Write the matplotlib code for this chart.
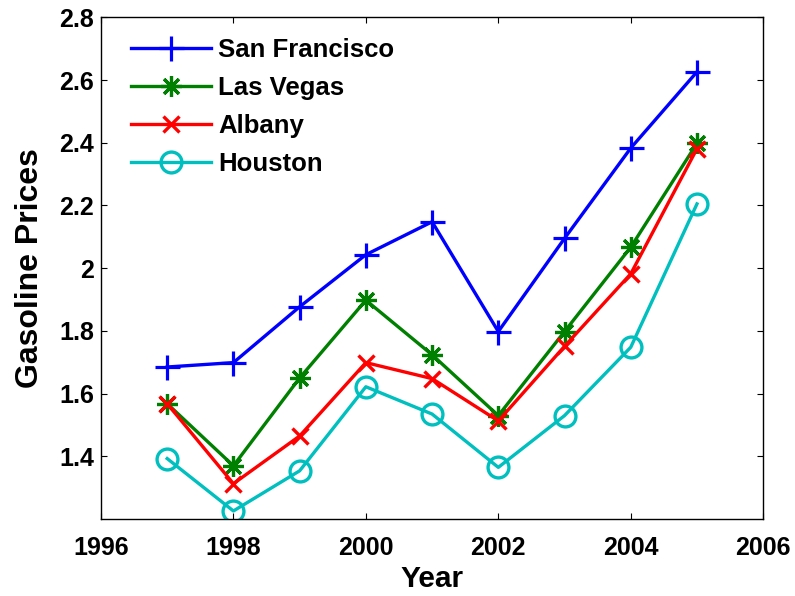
import numpy as np
import matplotlib
matplotlib.use("Agg")
import matplotlib.pyplot as plt

plt.rcParams['font.family'] = ['Liberation Sans', 'DejaVu Sans']
plt.rcParams['font.weight'] = 'bold'

years = [1997, 1998, 1999, 2000, 2001, 2002, 2003, 2004, 2005]
san_francisco = [1.685, 1.699, 1.877, 2.043, 2.148, 1.798, 2.095, 2.383, 2.626]
las_vegas = [1.568, 1.370, 1.650, 1.898, 1.724, 1.530, 1.798, 2.067, 2.398]
albany = [1.568, 1.313, 1.465, 1.699, 1.648, 1.513, 1.751, 1.982, 2.381]
houston = [1.393, 1.226, 1.354, 1.622, 1.535, 1.365, 1.530, 1.748, 2.205]

fig = plt.figure(figsize=(7.95, 5.96), dpi=100)
ax = fig.add_axes([0.127, 0.129, 0.833, 0.842])

lw = 2.4
ax.plot(years, san_francisco, color='#0000ff', lw=lw, marker='+', ms=18, mew=2.3, label='San Francisco')
ax.plot(years, las_vegas, color='#008000', lw=lw, marker=(8, 2, 0), ms=15, mew=2.3, label='Las Vegas')
ax.plot(years, albany, color='#ff0000', lw=lw, marker='x', ms=12, mew=2.4, label='Albany')
ax.plot(years, houston, color='#00bfbf', lw=lw, marker='o', ms=15, mew=2.4, mfc='none', label='Houston')

ax.set_xlim(1996, 2006)
ax.set_ylim(1.2, 2.8)
ax.set_xticks([1996, 1998, 2000, 2002, 2004, 2006])
ax.set_yticks([1.4, 1.6, 1.8, 2.0, 2.2, 2.4, 2.6, 2.8])
ax.set_yticklabels(['1.4', '1.6', '1.8', '2', '2.2', '2.4', '2.6', '2.8'])
ax.tick_params(direction='in', length=4, labelsize=18, top=True, right=True, width=0.8)
ax.tick_params(axis='x', pad=12)
ax.tick_params(axis='y', pad=5)
for s in ax.spines.values():
    s.set_linewidth(1.0)

ax.set_xlabel('Year', fontsize=21.5, fontweight='bold', labelpad=4)
ax.set_ylabel('Gasoline Prices', fontsize=23, fontweight='bold', labelpad=10)

ax.legend(loc='upper left', bbox_to_anchor=(0.018, 0.995), frameon=False,
          handlelength=3.1, labelspacing=0.55, handletextpad=0.3, borderaxespad=0.3,
          prop={'weight': 'bold', 'size': 18.5})

fig.savefig('out.png', dpi=100)
